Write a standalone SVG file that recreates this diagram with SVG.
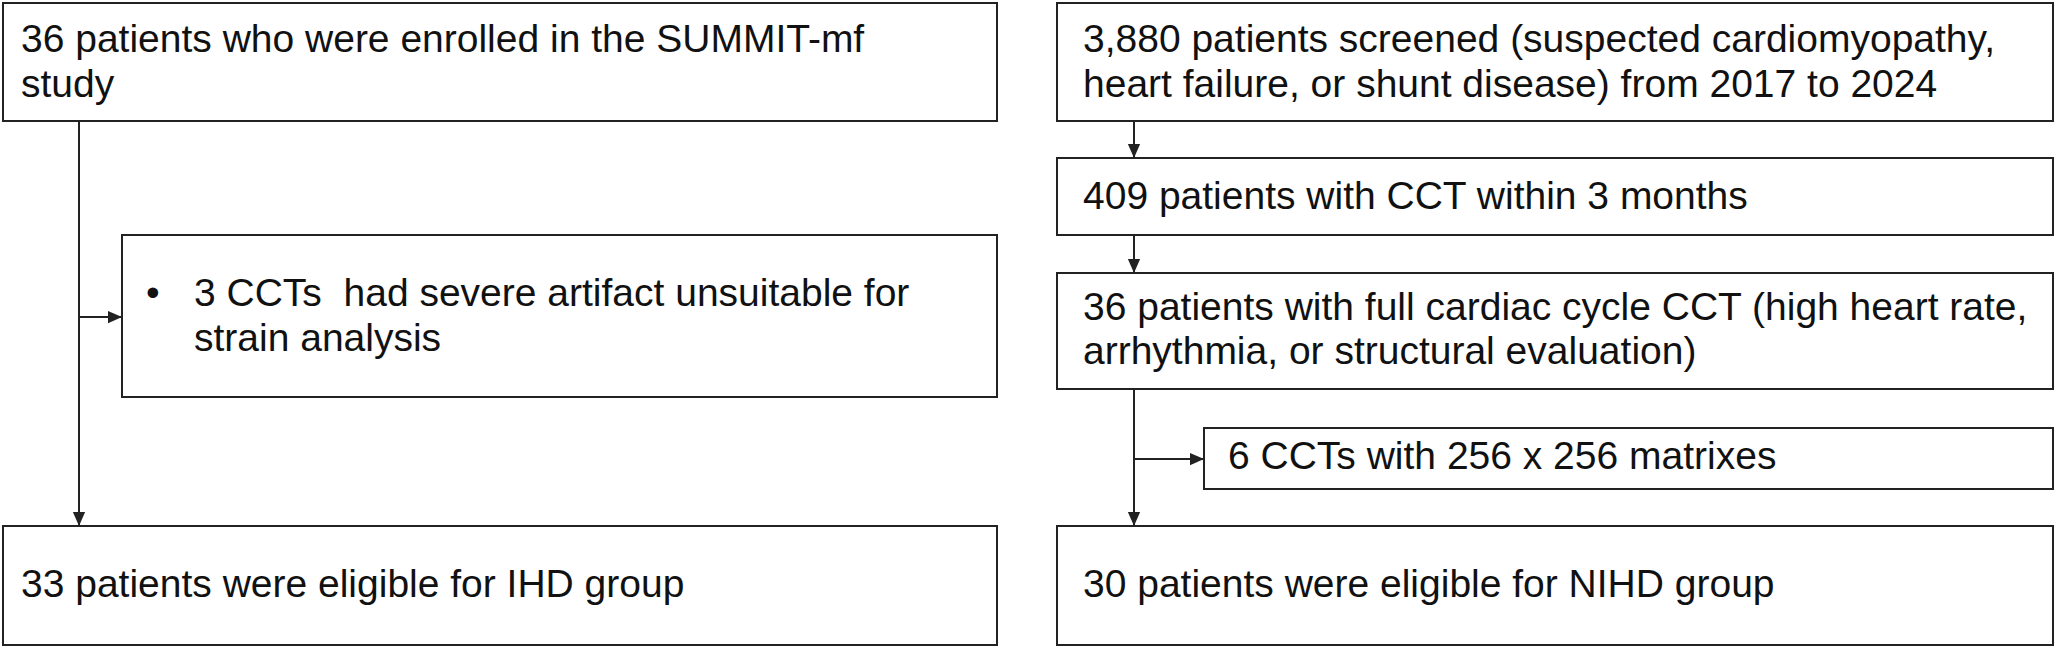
<svg xmlns="http://www.w3.org/2000/svg" width="2056" height="648" viewBox="0 0 2056 648">
<style>
rect{fill:#fff;stroke:#222;stroke-width:2}
text{font-family:"Liberation Sans",Arial,sans-serif;font-size:39px;fill:#111}
.c{stroke:#222;stroke-width:2;fill:none}
</style>
<defs><marker id="a" markerWidth="14" markerHeight="14" refX="16" refY="7" orient="auto" markerUnits="userSpaceOnUse" viewBox="0 0 16 14"><path d="M0,0 L16,7 L0,14 Z" fill="#222"/></marker></defs>
<rect width="2056" height="648" style="stroke:none"/>
<g id="n1"><rect x="3" y="3" width="994" height="118"/><text x="21" y="52">36 patients who were enrolled in the SUMMIT-mf</text><text x="21" y="97">study</text></g>
<g id="n2"><rect x="1057" y="3" width="996" height="118"/><text x="1083" y="52">3,880 patients screened (suspected cardiomyopathy,</text><text x="1083" y="97">heart failure, or shunt disease) from 2017 to 2024</text></g>
<g id="n3"><rect x="1057" y="158" width="996" height="77"/><text x="1083" y="209">409 patients with CCT within 3 months</text></g>
<g id="n4"><rect x="1057" y="273" width="996" height="116"/><text x="1083" y="320">36 patients with full cardiac cycle CCT (high heart rate,</text><text x="1083" y="364">arrhythmia, or structural evaluation)</text></g>
<g id="n5"><rect x="122" y="235" width="875" height="162"/><text x="146" y="306">•</text><text x="194" y="306">3 CCTs&#160; had severe artifact unsuitable for</text><text x="194" y="351">strain analysis</text></g>
<g id="n6"><rect x="1204" y="428" width="849" height="61"/><text x="1228" y="469">6 CCTs with 256 x 256 matrixes</text></g>
<g id="n7"><rect x="3" y="526" width="994" height="119"/><text x="21" y="597">33 patients were eligible for IHD group</text></g>
<g id="n8"><rect x="1057" y="526" width="996" height="119"/><text x="1083" y="597">30 patients were eligible for NIHD group</text></g>
<g id="connectors">
<path class="c" d="M79,121 V526" marker-end="url(#a)"/>
<path class="c" d="M79,317 H122" marker-end="url(#a)"/>
<path class="c" d="M1134,121 V158" marker-end="url(#a)"/>
<path class="c" d="M1134,235 V273" marker-end="url(#a)"/>
<path class="c" d="M1134,389 V526" marker-end="url(#a)"/>
<path class="c" d="M1134,459 H1204" marker-end="url(#a)"/>
</g>
</svg>
